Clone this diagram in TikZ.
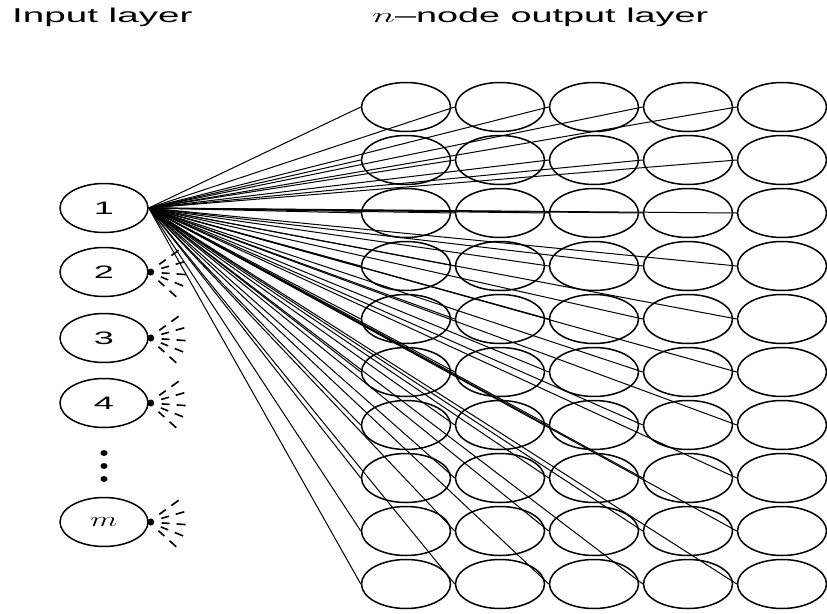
\documentclass[tikz,border=0pt]{standalone}
\usepackage{fontspec}
\setmainfont{Liberation Sans}
\usetikzlibrary{shapes.geometric}
\tikzset{
  onode/.style={draw, ellipse, line width=1.5pt, minimum width=89pt, minimum height=49pt, inner sep=0pt},
  inode/.style={draw, ellipse, line width=1.5pt, minimum width=88pt, minimum height=49pt, inner sep=0pt},
  link/.style={line width=1pt},
  title/.style={anchor=west, inner sep=0pt},
  stub/.style={line width=1.6pt},
}
\newcommand{\numlab}[1]{\scalebox{2.0}[1]{\fontsize{18}{18}\selectfont #1}}
\begin{document}
\begin{tikzpicture}[x=1pt,y=-1pt]
\useasboundingbox (0,0) rectangle (827,613);
% titles
\node[title] (t1) at (12,17) {\scalebox{1.93}[1]{\fontsize{20}{20}\selectfont Input layer}};
\node[title] (t2) at (372,17) {\scalebox{1.89}[1]{\fontsize{20}{20}\selectfont $n$\textendash node output layer}};
% output grid
\foreach \r in {1,...,10}{
  \foreach \c in {1,...,5}{
    \node[onode] (o-\r-\c) at ({406+94*(\c-1)},{107+53*(\r-1)}) {};
  }
}
% input nodes
\node[inode] (i1) at (104,208) {\numlab{1}};
\node[inode] (i2) at (104,272) {\numlab{2}};
\node[inode] (i3) at (104,338) {\numlab{3}};
\node[inode] (i4) at (104,403) {\numlab{4}};
\node[inode] (im) at (104,522) {\scalebox{1.5}[1]{\fontsize{21}{21}\selectfont $m$}};
% vertical dots
\foreach \yy/\nm in {453/d1,466/d2,479/d3}{
  \fill (104,\yy) ellipse (3.5pt and 3pt);
}
% links from node 1
\foreach \r in {1,...,10}{
  \foreach \c in {1,...,5}{
    \draw[link] (i1.east) -- (o-\r-\c.west);
  }
}
% stubs for other input nodes
\foreach \n in {i2,i3,i4,im}{
  \fill (\n.east) ++(2,0) circle (3.5pt);
  \begin{scope}[shift={(\n.east)}]
    \foreach \a in {42,22,4,-16,-36}{
      \draw[stub] (\a:13) -- (\a:21);
      \draw[stub] (\a:28) -- (\a:37);
    }
  \end{scope}
}
\end{tikzpicture}
\end{document}
